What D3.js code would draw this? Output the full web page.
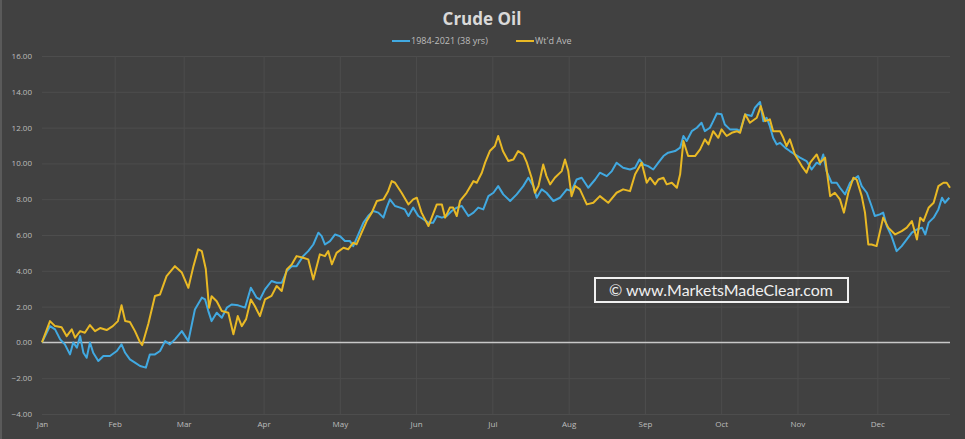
<!DOCTYPE html>
<html lang="en">
<head>
    <meta charset="utf-8" />
    <title>Crude Oil seasonal</title>
    <script src="https://d3js.org/d3.v7.min.js"></script>
    <style>
        body { margin: 0; background: #414141; }
        svg { display: block; }
    </style>
</head>
<body>
<script>
    // month labels and the trading day each month starts on
    var months = ["Jan", "Feb", "Mar", "Apr", "May", "Jun", "Jul", "Aug", "Sep", "Oct", "Nov", "Dec"];
    var monthDays = [0, 20, 39, 61, 82, 103, 124, 145, 166, 187, 208, 230];
    var yTicks = [16, 14, 12, 10, 8, 6, 4, 2, 0, -2, -4];

    // 1984-2021 (38 yrs) - trading day / cumulative % gain
    var blueDays = [0, 2.2, 3.6, 5, 6.3, 7.7, 8.6, 9.6, 10.5, 11.4, 12.3, 13.2, 14.1, 15.5, 16.9, 18.7, 20.6, 21.9, 22.9, 24.2,
        25.6, 27, 28.6, 29.7, 31.1, 32.5, 33.9, 35.2, 36.6, 38.5, 40.3, 42.1, 44, 44.9, 45.8, 46.7, 48.1, 49.5, 50.9, 52.2,
        54, 55.9, 57.5, 59.1, 60, 61.4, 63.2, 64.6, 66, 67.4, 68.8, 70.1, 71.9, 73.3, 74.7, 76.1, 77, 77.9, 79.3, 80.7,
        82, 83.4, 84.8, 85.7, 87.1, 88.5, 89.8, 91.2, 92.6, 94, 94.9, 95.8, 97.2, 98.6, 99.9, 100.9, 102.2, 103.6, 105, 106.4,
        107.7, 108.7, 110.1, 111.4, 112.8, 114.2, 115.6, 117.4, 118.8, 120.1, 121.5, 122.9, 124.3, 125.6, 127, 128.9, 130.7, 132.5, 133.9, 135.3,
        136.2, 137.6, 138.9, 140.8, 142.6, 144.5, 145.8, 147.2, 148.6, 150.4, 152.3, 153.6, 155.5, 156.9, 158.2, 160, 161.9, 163.3, 164.5, 165.6,
        166.9, 168.3, 169.7, 171.1, 172.4, 174.3, 175.7, 176.6, 177.5, 178.9, 180.3, 181.6, 182.5, 183.9, 184.8, 185.8, 187.1, 188, 189.4, 191.3,
        192.2, 193.6, 195.4, 196.3, 197.7, 198.6, 199.5, 200.4, 201.3, 202.3, 203.2, 204.6, 205.9, 207.3, 208.7, 210.5, 211.9, 213.3, 214.2, 215.1,
        216, 217.4, 218.8, 219.7, 221.1, 222.5, 223.4, 224.7, 225.7, 227.1, 228.4, 229.3, 230.7, 231.6, 232.6, 233.9, 235.3, 236.7, 238.1, 239.5,
        240.9, 242.3, 243.2, 244.1, 245.5, 246.8, 247.8, 248.6, 249.8];
    var blueVals = [0, 0.91, 0.73, 0.17, -0.11, -0.67, 0, -0.3, 0.35, -0.58, -0.86, 0, -0.58, -1.04, -0.76, -0.76, -0.48, -0.11, -0.58, -0.95,
        -1.13, -1.32, -1.41, -0.67, -0.67, -0.48, 0.07, -0.11, 0.17, 0.63, 0.07, 1.84, 2.5, 2.4, 1.75, 1.19, 1.66, 1.38, 1.94, 2.12,
        2.07, 1.94, 3.05, 2.5, 2.4, 2.96, 3.43, 3.33, 3.33, 3.98, 4.26, 4.26, 4.82, 5.1, 5.47, 6.13, 5.94, 5.47, 5.66, 6.03,
        5.94, 5.66, 5.66, 5.38, 6.03, 6.69, 7.06, 7.34, 7.25, 6.97, 7.53, 7.99, 7.62, 7.53, 7.43, 7.06, 7.53, 7.06, 6.88, 6.69,
        6.69, 7.06, 6.97, 7.06, 7.34, 7.53, 7.62, 7.06, 7.25, 7.53, 7.43, 8.17, 8.36, 8.73, 8.27, 7.9, 8.27, 8.73, 9.2, 8.73,
        8.08, 8.55, 8.36, 7.9, 8.08, 8.55, 8.45, 9.1, 9.2, 8.64, 9.1, 9.48, 9.29, 9.57, 10.04, 9.76, 9.66, 9.76, 10.22, 9.94,
        9.85, 9.66, 10.04, 10.41, 10.6, 10.69, 10.88, 11.53, 11.25, 11.8, 11.99, 12.27, 11.8, 11.99, 12.36, 12.79, 12.74, 12.17, 11.9, 11.9,
        11.8, 12.74, 12.65, 13.11, 13.43, 12.36, 12.55, 12.08, 11.43, 11.06, 11.15, 10.88, 10.69, 10.5, 10.32, 10.13, 9.66, 10.04, 9.94, 10.5,
        9.57, 8.92, 8.92, 8.64, 8.27, 8.92, 9.1, 9.29, 8.73, 8.36, 7.62, 7.06, 7.15, 7.25, 6.5, 5.94, 5.1, 5.38, 5.75, 6.13,
        6.31, 6.41, 6.03, 6.69, 6.97, 7.43, 8.08, 7.8, 8.08];

    // Wt'd Ave
    var goldDays = [0, 2.2, 3.6, 5.4, 6.8, 8.2, 9.1, 10.5, 11.8, 13.2, 14.6, 16, 17.8, 19.5, 20.9, 21.9, 22.9, 24.2, 25.6, 27,
        27.6, 29.3, 31.1, 32.5, 34.3, 36.6, 38.5, 40.3, 41.7, 43, 44, 45.1, 46, 46.7, 48.1, 49.5, 51.3, 52.7, 53.9, 55,
        56.2, 57.5, 58.6, 60, 61.4, 63.2, 64.6, 66, 67.4, 68.8, 70.1, 71.9, 73.3, 74.7, 76.5, 77.9, 78.8, 79.8, 81.1, 83,
        84.3, 85.7, 86.6, 88, 89.4, 90.8, 92.2, 94, 95.3, 96.3, 97.2, 99, 100.9, 102.2, 103.2, 104.5, 106.4, 107.3, 108.7, 110.1,
        111, 112.3, 113.2, 114.2, 115.1, 116.9, 118.8, 119.7, 121.1, 122, 123.3, 124.7, 125.6, 126.9, 128.4, 129.8, 131.1, 132.5, 133.5, 134.8,
        135.7, 136.7, 138, 138.9, 139.9, 141.2, 143.1, 144, 144.9, 145.8, 146.8, 148.1, 150, 151.8, 153.6, 155.9, 158.2, 160, 161.9, 163.3,
        165.1, 166.5, 167.4, 168.8, 169.7, 171.1, 172, 173.4, 174.8, 175.7, 176.6, 177.9, 179.8, 181.2, 182.5, 183.5, 184.8, 186.2, 187.1, 188.5,
        189.9, 191.3, 192.2, 193.6, 194.9, 196.8, 197.9, 199.1, 200.4, 201.3, 203.2, 204.1, 205, 205.9, 207.3, 209.2, 210.5, 211.5, 213.3, 214.2,
        215.6, 217, 218.3, 219.7, 220.8, 222, 223.4, 224.3, 225.7, 226.6, 227.5, 228.4, 229.8, 231.6, 233, 234.9, 236.7, 238.1, 239.5, 240.9,
        241.8, 242.7, 244.1, 245.5, 246.8, 248.2, 249.1, 250];
    var goldVals = [0, 1.19, 0.91, 0.85, 0.35, 0.73, 0.26, 0.63, 0.54, 0.97, 0.63, 0.8, 0.69, 0.91, 1.19, 2.07, 1.19, 1.14, 0.63, 0,
        -0.15, 1.06, 2.59, 2.68, 3.7, 4.26, 3.9, 3.05, 4.26, 5.2, 5.1, 4.1, 1.94, 2.58, 2.3, 1.75, 1.66, 0.45, 1.47, 0.91,
        1.3, 2.4, 2.03, 1.47, 2.4, 2.6, 3.15, 2.87, 4.08, 4.36, 4.82, 4.73, 4.64, 3.52, 4.92, 4.82, 5.1, 4.36, 5.0, 5.29,
        5.2, 5.57, 5.48, 6.13, 6.78, 7.25, 7.9, 7.99, 8.45, 9.01, 8.92, 8.36, 7.71, 7.99, 8.08, 7.25, 6.5, 6.97, 7.71, 7.71,
        6.97, 7.53, 7.53, 7.06, 7.9, 8.36, 9.01, 8.92, 9.48, 10.04, 10.69, 10.97, 11.53, 10.69, 10.13, 10.22, 10.69, 10.5, 10.04, 9.2,
        8.36, 8.74, 9.94, 9.29, 8.83, 9.2, 9.57, 10.22, 9.57, 8.17, 8.74, 8.55, 7.71, 7.8, 8.17, 7.8, 8.36, 8.55, 8.45, 9.39,
        10.04, 8.92, 9.2, 8.83, 9.1, 9.2, 8.83, 8.92, 8.64, 9.39, 11.25, 10.41, 10.41, 10.78, 11.34, 11.06, 11.8, 11.43, 11.9, 11.53,
        11.71, 11.8, 11.71, 12.74, 12.27, 12.55, 13.2, 12.36, 12.46, 11.8, 11.8, 11.43, 10.97, 11.34, 10.5, 9.85, 9.48, 10.04, 10.5, 10.04,
        10.32, 8.17, 8.36, 7.99, 7.25, 8.36, 9.2, 9.1, 8.17, 7.25, 5.47, 5.47, 5.38, 6.97, 6.41, 6.03, 6.22, 6.41, 6.78, 5.75,
        6.97, 6.78, 7.52, 7.8, 8.73, 8.92, 8.92, 8.64];

    var w = 965;
    var h = 439;
    var plotLeft = 42, plotRight = 950, plotTop = 56, plotBottom = 414;
    var blueColor = "#41a9e1";
    var goldColor = "#e9b925";
    var gridColor = "#4d4d4d";

    var svg = d3.select("body").append("svg").attr("width", w).attr("height", h);

    var x = d3.scaleLinear().domain([0, 250]).range([plotLeft, plotRight]);
    var y = d3.scaleLinear().domain([-4, 16]).range([plotBottom, plotTop]);

    // faint edge on the left like the screenshot
    svg.append("rect").attr("x", 0).attr("y", 0).attr("width", 2).attr("height", h).style("fill", "#5a5a5a");

    // horizontal grid + y labels
    var yAxis = d3.axisLeft(y).tickValues(yTicks).tickSize(-(plotRight - plotLeft)).tickFormat(d3.format(".2f"));
    var gy = svg.append("g").attr("transform", "translate(" + plotLeft + ",0)").call(yAxis);
    gy.select(".domain").remove();
    gy.selectAll("line").style("stroke", gridColor).style("stroke-width", 1);
    gy.selectAll("text").attr("x", -10).style("fill", "#bdbdbd").style("font-family", "Open Sans, sans-serif").style("font-size", "8px");

    // vertical month grid + labels
    var xAxis = d3.axisBottom(x).tickValues(monthDays).tickSize(-(plotBottom - plotTop)).tickFormat(function (d, i) { return months[i]; });
    var gx = svg.append("g").attr("transform", "translate(0," + plotBottom + ")").call(xAxis);
    gx.select(".domain").remove();
    gx.selectAll("line").style("stroke", function (d, i) { return i == 0 ? "none" : gridColor; });
    gx.selectAll("text").attr("y", 7).style("fill", "#bdbdbd").style("font-family", "Open Sans, sans-serif").style("font-size", "8px");

    // zero line
    svg.append("line").attr("x1", plotLeft).attr("x2", plotRight).attr("y1", y(0)).attr("y2", y(0))
        .style("stroke", "#c8c8c8").style("stroke-width", 1.5);

    var line = d3.line().x(function (d) { return x(d[0]); }).y(function (d) { return y(d[1]); });

    var blue = d3.zip(blueDays, blueVals);
    var gold = d3.zip(goldDays, goldVals);

    svg.append("path").datum(blue).attr("d", line)
        .style("fill", "none").style("stroke", blueColor).style("stroke-width", 2).style("stroke-linejoin", "round");
    svg.append("path").datum(gold).attr("d", line)
        .style("fill", "none").style("stroke", goldColor).style("stroke-width", 2).style("stroke-linejoin", "round");

    // title
    svg.append("text").attr("x", 482).attr("y", 25).attr("text-anchor", "middle")
        .style("fill", "#d9d9d9").style("font-family", "Open Sans, sans-serif").style("font-weight", "bold").style("font-size", "17px")
        .text("Crude Oil");

    // legend
    var legend = [["1984-2021 (38 yrs)", blueColor, 392], ["Wt'd Ave", goldColor, 516]];
    legend.forEach(function (l) {
        svg.append("line").attr("x1", l[2]).attr("x2", l[2] + 18).attr("y1", 41).attr("y2", 41)
            .style("stroke", l[1]).style("stroke-width", 2);
        svg.append("text").attr("x", l[2] + 19).attr("y", 44)
            .style("fill", "#bdbdbd").style("font-family", "Open Sans, sans-serif").style("font-size", "9px")
            .text(l[0]);
    });

    // watermark
    svg.append("rect").attr("x", 595).attr("y", 278).attr("width", 253).attr("height", 24)
        .style("fill", "none").style("stroke", "#f0f0f0").style("stroke-width", 2);
    svg.append("text").attr("x", 721).attr("y", 295.5).attr("text-anchor", "middle")
        .attr("textLength", 224).attr("lengthAdjust", "spacingAndGlyphs")
        .style("fill", "#f0f0f0").style("font-family", "Lato, sans-serif").style("font-size", "15px")
        .text("\u00a9 www.MarketsMadeClear.com");
</script>
</body>
</html>
